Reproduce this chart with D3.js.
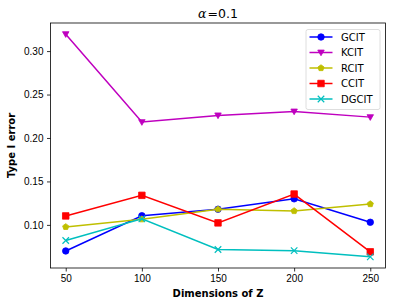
<!DOCTYPE html>
<html>
<head>
<meta charset="utf-8">
<script src="https://cdn.jsdelivr.net/npm/d3@7"></script>
<style>
  body { margin: 0; background: #fff; }
  svg { display: block; font-family: "DejaVu Sans", sans-serif; }
  .axis text { font-size: 10px; fill: #000; }
  .axis path, .axis line { stroke: #000; stroke-width: 0.8; }
</style>
</head>
<body>
<svg id="chart" width="395" height="306"></svg>
<script>
// D3 v7
const dims = [50, 100, 150, 200, 250];
const gcit  = [0.070, 0.1105, 0.118, 0.130, 0.103];
const kcit  = [0.3195, 0.2183, 0.226, 0.2305, 0.224];
const rcit  = [0.0977, 0.1065, 0.118, 0.116, 0.124];
const ccit  = [0.1103, 0.134, 0.1023, 0.1355, 0.069];
const dgcit = [0.082, 0.107, 0.0717, 0.0703, 0.0632];
const xTicks = [50, 100, 150, 200, 250];
const yTicks = [0.10, 0.15, 0.20, 0.25, 0.30];

const series = [
  {name: 'GCIT',  values: gcit,  color: '#0000ff', marker: 'circle'},
  {name: 'KCIT',  values: kcit,  color: '#bf00bf', marker: 'tridown'},
  {name: 'RCIT',  values: rcit,  color: '#bfbf00', marker: 'pentagon'},
  {name: 'CCIT',  values: ccit,  color: '#ff0000', marker: 'square'},
  {name: 'DGCIT', values: dgcit, color: '#00bfbf', marker: 'x'}
];

const svg = d3.select('#chart');
const margin = {top: 23, right: 9.5, bottom: 38, left: 50.5};
const W = 395, H = 306;
const innerW = W - margin.left - margin.right, innerH = H - margin.top - margin.bottom;
const g = svg.append('g').attr('transform', `translate(${margin.left},${margin.top})`);

// matplotlib-style 5% margins
const allY = series.flatMap(s => s.values);
const [ymin, ymax] = d3.extent(allY);
const ypad = (ymax - ymin) * 0.05;
const x = d3.scaleLinear().domain([40, 260]).range([0, innerW]);
const y = d3.scaleLinear().domain([ymin - ypad, ymax + ypad]).range([innerH, 0]);

g.append('g').attr('class', 'axis').attr('transform', `translate(0,${innerH})`)
  .call(d3.axisBottom(x).tickValues(xTicks).tickSize(3.5).tickPadding(3.5).tickFormat(d3.format('d')))
  .call(a => a.select('.domain').remove());
g.append('g').attr('class', 'axis')
  .call(d3.axisLeft(y).tickValues(yTicks).tickSize(3.5).tickPadding(3.5).tickFormat(d3.format('.2f')))
  .call(a => a.select('.domain').remove());

// frame
g.append('rect').attr('width', innerW).attr('height', innerH)
  .attr('fill', 'none').attr('stroke', '#000').attr('stroke-width', 0.8);

function markerPath(type, s){
  if (type === 'circle') return d3.symbol(d3.symbolCircle, s * s * Math.PI / 4)();
  if (type === 'square') return d3.symbol(d3.symbolSquare, s * s)();
  if (type === 'tridown') {
    const r = s / 2;
    return `M${-r},${-r * 0.75}L${r},${-r * 0.75}L0,${r}Z`;
  }
  if (type === 'pentagon') {
    const r = s / 2, pts = [];
    for (let i = 0; i < 5; i++){
      const a = -Math.PI / 2 + i * 2 * Math.PI / 5;
      pts.push([r * Math.cos(a), r * Math.sin(a)]);
    }
    return 'M' + pts.map(p => p.join(',')).join('L') + 'Z';
  }
  if (type === 'x') {
    const r = s / 2;
    return `M${-r},${-r}L${r},${r}M${-r},${r}L${r},${-r}`;
  }
}

function drawMarker(sel, s, px, py){
  const p = sel.append('path').attr('d', markerPath(s.marker, 6.5))
    .attr('transform', `translate(${px},${py})`);
  if (s.marker === 'x') p.attr('fill', 'none').attr('stroke', s.color).attr('stroke-width', 1.2);
  else p.attr('fill', s.color).attr('stroke', s.color).attr('stroke-width', 0.8);
}

const line = d3.line().x((d, i) => x(dims[i])).y(d => y(d));
const plot = g.append('g');
series.forEach(s => {
  plot.append('path').datum(s.values).attr('d', line)
    .attr('fill', 'none').attr('stroke', s.color).attr('stroke-width', 1.5);
  s.values.forEach((v, i) => drawMarker(plot, s, x(dims[i]), y(v)));
});

// legend
const lg = g.append('g').attr('transform', `translate(${innerW - 79.5},${6.5})`);
lg.append('rect').attr('width', 74).attr('height', 80).attr('rx', 2)
  .attr('fill', '#fff').attr('fill-opacity', 0.8).attr('stroke', '#d6d6d6').attr('stroke-width', 0.8);
series.forEach((s, i) => {
  const yy = 7.5 + i * 15.5;
  lg.append('line').attr('x1', 3.5).attr('x2', 26.5).attr('y1', yy).attr('y2', yy)
    .attr('stroke', s.color).attr('stroke-width', 1.5);
  drawMarker(lg, s, 15, yy);
  lg.append('text').attr('x', 35).attr('y', yy).attr('dy', '0.35em')
    .attr('font-size', '10px').text(s.name);
});

// title and labels
const title = svg.append('text').attr('x', margin.left + innerW / 2).attr('y', 17.5)
  .attr('text-anchor', 'middle').attr('font-size', '12.5px');
title.append('tspan').attr('font-style', 'italic').attr('font-family', 'DejaVu Serif, serif').text('α');
title.append('tspan').text('=0.1').attr('dx', 1);

svg.append('text').attr('x', margin.left + innerW / 2).attr('y', 297)
  .attr('text-anchor', 'middle').attr('font-size', '10px').attr('font-weight', 'bold')
  .text('Dimensions of Z');
svg.append('text').attr('transform', `translate(15,${margin.top + innerH / 2}) rotate(-90)`)
  .attr('text-anchor', 'middle').attr('font-size', '10px').attr('font-weight', 'bold')
  .text('Type I error');
</script>
</body>
</html>
